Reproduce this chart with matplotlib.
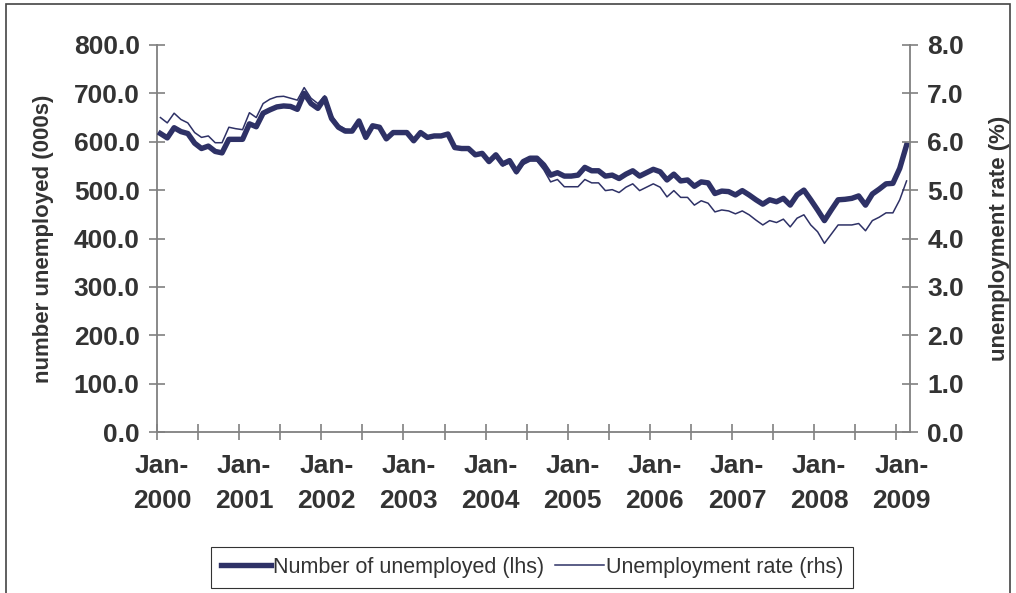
import matplotlib.pyplot as plt
import matplotlib.patches as patches
import matplotlib.transforms as mtransforms
from matplotlib.ticker import FormatStrFormatter

plt.rcParams['font.family'] = ['Liberation Sans', 'DejaVu Sans']

# monthly data, Jan 2000 - Feb 2009
number_unemployed = [
    617, 608, 629, 621, 617, 597, 586, 591, 580, 577, 605, 605,
    605, 637, 631, 659, 666, 672, 674, 673, 667, 700, 679, 669,
    690, 648, 630, 622, 622, 643, 609, 633, 630, 606, 619, 619,
    619, 602, 619, 609, 612, 612, 616, 588, 586, 586, 573, 576,
    559, 573, 554, 561, 538, 559, 566, 566, 552, 531, 536, 529,
    529, 531, 547, 540, 540, 529, 531, 524, 533, 540, 529, 536,
    543, 538, 521, 533, 519, 521, 508, 517, 515, 493, 498, 497,
    490, 499, 490, 480, 471, 480, 476, 483, 469, 490, 500, 480,
    459, 437, 459, 480, 481, 483, 488, 469, 492, 502, 513, 514,
    545, 593,
]
unemployment_rate = [
    6.50, 6.39, 6.59, 6.46, 6.39, 6.19, 6.09, 6.12, 5.98, 5.98, 6.30, 6.27,
    6.25, 6.60, 6.50, 6.79, 6.88, 6.93, 6.94, 6.90, 6.86, 7.12, 6.90, 6.79,
    6.95, 6.55, 6.34, 6.26, 6.25, 6.44, 6.10, 6.34, 6.31, 6.07, 6.20, 6.20,
    6.20, 6.03, 6.20, 6.10, 6.12, 6.12, 6.16, 5.88, 5.86, 5.86, 5.72, 5.74,
    5.56, 5.70, 5.50, 5.57, 5.34, 5.53, 5.60, 5.60, 5.42, 5.17, 5.22, 5.07,
    5.07, 5.07, 5.22, 5.15, 5.15, 4.99, 5.01, 4.95, 5.06, 5.13, 4.99, 5.06,
    5.13, 5.06, 4.86, 4.99, 4.85, 4.85, 4.69, 4.78, 4.73, 4.55, 4.59, 4.57,
    4.51, 4.57, 4.49, 4.38, 4.28, 4.37, 4.33, 4.40, 4.24, 4.42, 4.49, 4.28,
    4.14, 3.90, 4.09, 4.28, 4.28, 4.28, 4.31, 4.16, 4.37, 4.44, 4.53, 4.53,
    4.80, 5.19,
]
years = list(range(2000, 2010))

line_col = '#2e3166'
axis_col = '#808080'
text_col = '#333333'

fig = plt.figure(figsize=(10.16, 5.93), dpi=100)
ax = fig.add_axes([157 / 1016, 1 - 432 / 593, 753 / 1016, 387 / 593])
ax2 = ax.twinx()

x = list(range(len(number_unemployed)))
l1, = ax.plot(x, number_unemployed, color=line_col, lw=3.9, solid_joinstyle='round',
              label='Number of unemployed (lhs)', zorder=3)
l2, = ax2.plot(x, unemployment_rate, color=line_col, lw=1.1,
               label='Unemployment rate (rhs)', zorder=3)

ax.set_xlim(-0.5, len(x) - 0.5)
ax.set_ylim(0, 800)
ax2.set_ylim(0, 8)
ax.set_yticks(range(0, 801, 100))
ax2.set_yticks(range(0, 9))
ax.yaxis.set_major_formatter(FormatStrFormatter('%.1f'))
ax2.yaxis.set_major_formatter(FormatStrFormatter('%.1f'))

# ticks every 6 months on category boundaries, labels each January
tick_pos = [-0.5 + 6 * k for k in range(19)]
tick_lab = []
for k in range(19):
    if k % 2 == 0:
        tick_lab.append('Jan-\n' + str(years[k // 2]))
    else:
        tick_lab.append('')
ax.set_xticks(tick_pos)
ax.set_xticklabels(tick_lab, linespacing=1.55)

for a in (ax, ax2):
    a.spines['top'].set_visible(False)
    for s in ('left', 'right', 'bottom'):
        a.spines[s].set_color(axis_col)
        a.spines[s].set_linewidth(1.3)
    a.tick_params(axis='y', direction='inout', length=11, width=1.2, color=axis_col,
                  labelsize=19, labelcolor=text_col, pad=7)
    for t in a.get_yticklabels():
        t.set_fontweight('bold')
ax.spines['right'].set_visible(False)
ax2.spines['left'].set_visible(False)
ax2.spines['bottom'].set_visible(False)

ax.tick_params(axis='x', direction='inout', length=12, width=1.2, color=axis_col,
               labelsize=19, labelcolor=text_col, pad=10)
shift = mtransforms.ScaledTranslation(5 / 100, 0, fig.dpi_scale_trans)
for t in ax.get_xticklabels():
    t.set_fontweight('bold')
    t.set_transform(t.get_transform() + shift)

ax.set_ylabel('number unemployed (000s)', fontsize=16, fontweight='bold', color=text_col)
ax.yaxis.set_label_coords(-0.137, 0.5)
ax2.set_ylabel('unemployment rate (%)', fontsize=16, fontweight='bold', color=text_col,
               rotation=90)
ax2.yaxis.set_label_coords(1.105, 0.5)

leg = fig.legend(handles=[l1, l2], loc='center', bbox_to_anchor=(0.524, 0.043),
                 ncol=2, fontsize=15.5, frameon=True, fancybox=False, handlelength=2.3,
                 handletextpad=0.1, columnspacing=0.5, borderpad=0.45,
                 borderaxespad=0)
leg.get_frame().set_edgecolor('black')
leg.get_frame().set_linewidth(0.8)
for t in leg.get_texts():
    t.set_color(text_col)

# outer chart border
fig.patches.append(patches.Rectangle((6 / 1016, -0.05), 1004 / 1016, 1.05 - 4 / 593,
                                     transform=fig.transFigure, fill=False,
                                     edgecolor='#444444', lw=1.2))

fig.savefig('out.png', dpi=100)
